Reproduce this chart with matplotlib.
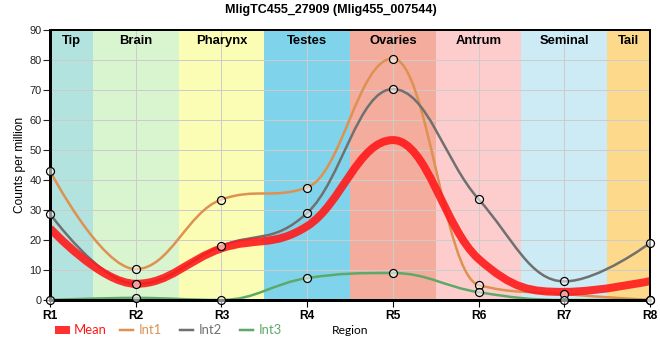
import numpy as np
import matplotlib
matplotlib.use("Agg")
import matplotlib.pyplot as plt
from matplotlib.path import Path
from matplotlib.patches import PathPatch, Rectangle
from matplotlib.lines import Line2D
import matplotlib.transforms as mtransforms

categories = ["R1", "R2", "R3", "R4", "R5", "R6", "R7", "R8"]
regions = ["Tip", "Brain", "Pharynx", "Testes", "Ovaries", "Antrum", "Seminal", "Tail"]
region_colors = ["#b3e3df", "#d8f5d0", "#fcfdb4", "#7fd4eb", "#f4ac9d", "#fdcdce", "#cdebf4", "#fdda8b"]

mean = [23.9, 5.4, 17.2, 24.6, 53.3, 13.7, 2.7, 6.3]
int1 = [43.0, 10.3, 33.5, 37.5, 80.5, 5.0, 2.0, 0.0]
int2 = [28.7, 5.3, 18.0, 29.0, 70.3, 33.6, 6.2, 19.0]
int3 = [0.0, 0.7, 0.0, 7.3, 9.0, 2.6, 0.0, 0.0]

series_names = ["Mean", "Int1", "Int2", "Int3"]
series_colors = ["#ff1a1a", "#de9150", "#707070", "#5ea86a"]

W, H = 660, 360
PX = 0.72  # points per pixel at dpi 100


def spline_path(xs, ys, smoothing=1.5):
    n = len(xs)
    denom = smoothing + 1
    verts = [(xs[0], ys[0])]
    codes = [Path.MOVETO]
    right = [None] * n
    for i in range(1, n):
        px, py = xs[i], ys[i]
        lx, ly = xs[i - 1], ys[i - 1]
        if i < n - 1:
            nx, ny = xs[i + 1], ys[i + 1]
            lcx = (smoothing * px + lx) / denom
            lcy = (smoothing * py + ly) / denom
            rcx = (smoothing * px + nx) / denom
            rcy = (smoothing * py + ny) / denom
            corr = 0.0
            if rcx != lcx:
                corr = ((rcy - lcy) * (rcx - px)) / (rcx - lcx) + py - rcy
            lcy += corr
            rcy += corr
            if lcy > ly and lcy > py:
                lcy = max(ly, py); rcy = 2 * py - lcy
            elif lcy < ly and lcy < py:
                lcy = min(ly, py); rcy = 2 * py - lcy
            if rcy > ny and rcy > py:
                rcy = max(ny, py); lcy = 2 * py - rcy
            elif rcy < ny and rcy < py:
                rcy = min(ny, py); lcy = 2 * py - rcy
            right[i] = (rcx, rcy)
        else:
            lcx, lcy = px, py
        c1 = right[i - 1] if right[i - 1] is not None else (lx, ly)
        verts += [c1, (lcx, lcy), (px, py)]
        codes += [Path.CURVE4] * 3
    return Path(verts, codes)


plt.rcParams['font.family'] = ['Liberation Sans', 'DejaVu Sans']
fig = plt.figure(figsize=(W / 100, H / 100), dpi=100)
ax = fig.add_axes([50 / W, 1 - 300 / H, 600 / W, 270 / H])
x = np.arange(len(categories))
ax.set_xlim(0, len(categories) - 1)
ax.set_ylim(0, 90)

# bands
for i, (name, col) in enumerate(zip(regions, region_colors)):
    ax.axvspan(i - 0.5, i + 0.5, color=col, zorder=0, lw=0)
    lo, hi = max(i - 0.5, 0), min(i + 0.5, len(categories) - 1)
    trans = mtransforms.blended_transform_factory(ax.transData, ax.transAxes)
    ax.text((lo + hi) / 2, 1 - 11 / 270, name, transform=trans, ha='center', va='center',
            fontsize=13 * PX, fontweight='bold', color='black', zorder=2)

ax.set_yticks(np.arange(0, 91, 10))
ax.set_xticks(x)
ax.set_xticklabels(categories, fontweight='bold', fontsize=12 * PX)
ax.tick_params(axis='y', labelsize=11 * PX, length=5, width=0.8, colors='#222222', pad=1)
ax.tick_params(axis='x', length=5, width=0.8, pad=2, colors='black')
ax.grid(True, color='#cccccc', lw=1 * PX, zorder=1)
ax.set_axisbelow(True)
for s in ['top', 'right']:
    ax.spines[s].set_linewidth(2 * PX)
for s in ['left', 'bottom']:
    ax.spines[s].set_linewidth(3 * PX)
for s in ax.spines.values():
    s.set_color('black')
    s.set_zorder(6)

# lines
for ys, col, z in [(int1, series_colors[1], 3), (int2, series_colors[2], 3.1), (int3, series_colors[3], 3.2)]:
    ax.add_patch(PathPatch(spline_path(x, ys), fill=False, edgecolor=col, lw=2.5 * PX, zorder=z,
                           capstyle='round', joinstyle='round'))
ax.add_patch(PathPatch(spline_path(x, mean), fill=False, edgecolor=series_colors[0], alpha=0.9,
                       lw=8 * PX, zorder=4, capstyle='butt', joinstyle='round'))
for ys in [int1, int2, int3]:
    ax.plot(x, ys, 'o', ms=8 * PX, mfc=(1, 1, 1, 0.55), mec='black', mew=1.2 * PX, zorder=7, clip_on=False)

# title & labels
fig.text(331 / W, 1 - 10 / H, "MligTC455_27909 (Mlig455_007544)", ha='center', va='center',
         fontsize=12.5 * PX, fontweight='bold')
fig.text(20 / W, 1 - 165 / H, "Counts per million", rotation=90, ha='center', va='center',
         fontsize=12 * PX)
fig.text(332 / W, 1 - 331 / H, "Region", ha='left', va='center', fontsize=12 * PX, family='Lato')

# legend
ly = 1 - 330 / H
fig.patches.append(Rectangle((55 / W, ly - 4 / H), 15 / W, 8 / H, transform=fig.transFigure,
                             facecolor=series_colors[0], alpha=0.9, lw=0))
fig.text(74 / W, ly, "Mean", ha='left', va='center', fontsize=13 * PX, color=series_colors[0], family='Lato')
for (x0, tx), name, col in zip([(120, 139), (180, 199), (240, 259)], series_names[1:], series_colors[1:]):
    fig.lines.append(Line2D([x0 / W, (x0 + 13) / W], [ly, ly], transform=fig.transFigure, color=col, lw=2.5 * PX))
    fig.text(tx / W, ly, name, ha='left', va='center', fontsize=13 * PX, color=col, family='Lato')

fig.savefig("out.png", dpi=100)
